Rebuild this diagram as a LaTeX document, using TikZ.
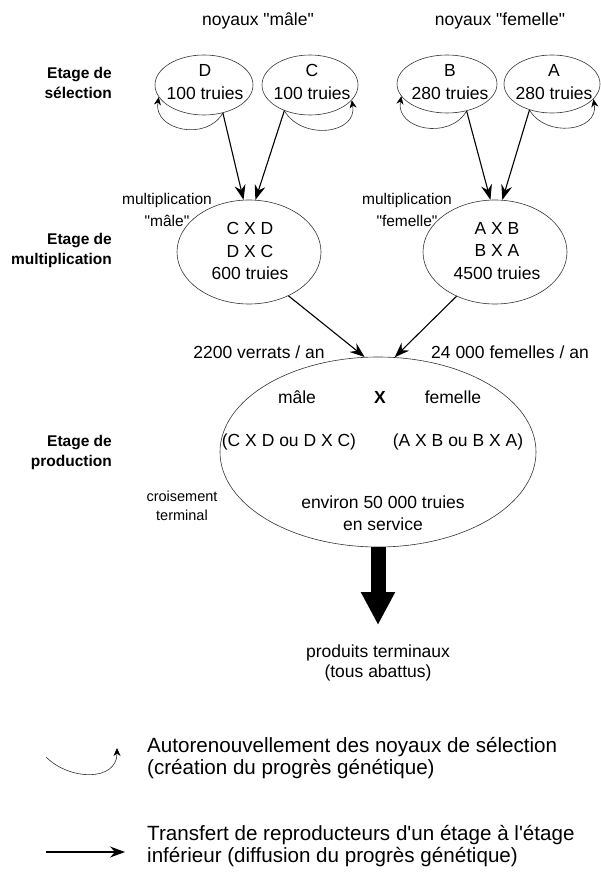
\documentclass[tikz,border=0pt]{standalone}
\usepackage{fontspec}
\setmainfont{Liberation Sans}[Ligatures=TeXOff]
\usetikzlibrary{shapes.geometric,arrows.meta}
\begin{document}
\begin{tikzpicture}[x=1pt,y=-1pt,
  ell/.style={ellipse, draw=black!80, line width=0.6pt, inner sep=0pt},
  intxt/.style={inner sep=0pt, align=center, font=\fontsize{17.5}{22.5}\selectfont},
  txt/.style={inner sep=0pt, align=center, font=\fontsize{17.5}{22}\selectfont},
  small/.style={inner sep=0pt, align=center, font=\fontsize{15.5}{22}\selectfont},
  stage/.style={inner sep=0pt, anchor=east, align=right, font=\bfseries\fontsize{15.5}{20}\selectfont},
  legend/.style={inner sep=0pt, anchor=west, align=left, font=\fontsize{20.6}{22}\selectfont},
  transfer/.style={line width=1.1pt, -{Stealth[length=15pt,width=11pt,inset=5pt]}},
  renew/.style={line width=0.6pt, draw=black!80, -{Stealth[length=8pt,width=7pt,inset=2.5pt,color=black]}},
]
\useasboundingbox (0,0) rectangle (601,874);

% top headings
\node[txt] (hm) at (258,21) {noyaux "mâle"};
\node[txt] (hf) at (500,21) {noyaux "femelle"};

% stage labels
\node[stage] (s1) at (112,83) {Etage de\\sélection};
\node[stage] (s2) at (112,250) {Etage de\\multiplication};
\node[stage] (s3) at (112,452) {Etage de\\production};

% selection nuclei
\node[ell, minimum width=98pt, minimum height=60pt] (D) at (204,85) {};
\node[intxt] (Dt) at (205,82) {D\\100 truies};
\node[ell, minimum width=96pt, minimum height=60pt] (C) at (310,85) {};
\node[intxt] (Ct) at (312,82) {C\\100 truies};
\node[ell, minimum width=100pt, minimum height=58pt] (B) at (447,84) {};
\node[intxt] (Bt) at (450,82) {B\\280 truies};
\node[ell, minimum width=96pt, minimum height=58pt] (A) at (552,84) {};
\node[intxt] (At) at (554,82) {A\\280 truies};

% multiplication
\node[ell, minimum width=144pt, minimum height=104pt] (mm) at (249,252) {};
\node[intxt] (mmt) at (250,251) {C X D\\D X C\\600 truies};
\node[ell, minimum width=144pt, minimum height=104pt] (mf) at (495,252) {};
\node[intxt] (mft) at (497,251) {A X B\\B X A\\4500 truies};
\node[small] (ml) at (167,210) {multiplication\\"mâle"};
\node[small] (fl) at (407,210) {multiplication\\"femelle"};

% production
\node[ell, minimum width=316pt, minimum height=190pt] (prod) at (378,452) {};
\node[txt] (pm) at (297,397) {mâle};
\node[txt, font=\bfseries\fontsize{17.5}{22}\selectfont] (px) at (380,397) {X};
\node[txt] (pf) at (453,397) {femelle};
\node[txt] (pc1) at (289,442) {(C X D ou D X C)};
\node[txt] (pc2) at (458,442) {(A X B ou B X A)};
\node[txt] (pe) at (383,513) {environ 50 000 truies\\en service};
\node[small, font=\fontsize{14.5}{19}\selectfont] (ct) at (182,506) {croisement\\terminal};

\node[txt] (lv) at (259,352) {2200 verrats / an};
\node[txt] (lf) at (510,352) {24 000 femelles / an};

% self renewal loops
\draw[renew] (D.-56) to[out=-120,in=-100,looseness=1.3] (D.-165);
\draw[renew] (C.-135) to[out=-60,in=-80,looseness=1.3] (C.-20);
\draw[renew] (B.-54) to[out=-120,in=-100,looseness=1.3] (B.-165);
\draw[renew] (A.-131) to[out=-60,in=-80,looseness=1.3] (A.-20);

% transfers
\draw[transfer] (D.-56) -- (mm.96.6);
\draw[transfer] (C.-135) -- (mm.83.4);
\draw[transfer] (B.-54) -- (mf.95.5);
\draw[transfer] (A.-131) -- (mf.82.3);
\draw[transfer] (mm.-48.4) -- (prod.98.4);
\draw[transfer] (mf.-131.6) -- (prod.80);

% output
\coordinate (tip) at (378,625);
\draw[line width=15pt, -{Triangle[length=33pt,width=32pt]}] (prod.south) -- (tip);
\node[txt, font=\fontsize{17.5}{20}\selectfont] (out) at (378,663) {produits terminaux\\(tous abattus)};

% legend
\coordinate (r1) at (46,757);
\coordinate (r2) at (117,748);
\draw[renew] (r1) to[out=-45,in=-90,looseness=1.2] (r2);
\node[legend] (lg1) at (147,758) {Autorenouvellement des noyaux de sélection\\(création du progrès génétique)};
\coordinate (t1) at (46,852);
\coordinate (t2) at (125,852);
\draw[transfer] (t1) -- (t2);
\node[legend] (lg2) at (147,846) {Transfert de reproducteurs d'un étage à l'étage\\inférieur (diffusion du progrès génétique)};
\end{tikzpicture}
\end{document}
